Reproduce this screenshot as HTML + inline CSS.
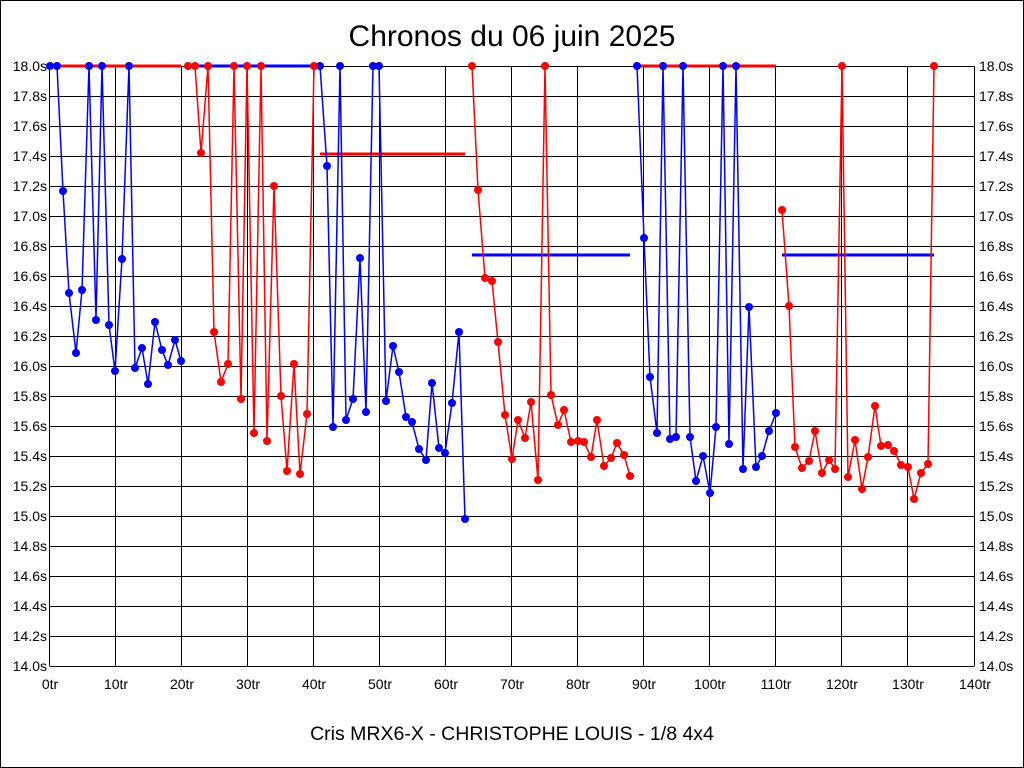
<!DOCTYPE html>
<html><head><meta charset="utf-8"><style>
html,body{margin:0;padding:0;background:#fff;}
svg{display:block;font-family:"Liberation Sans",sans-serif;}
circle{r:4px;}
</style></head><body>
<svg width="1024" height="768" viewBox="0 0 1024 768" xmlns="http://www.w3.org/2000/svg">
<rect x="0.5" y="0.5" width="1023" height="767" fill="#fff" stroke="#000"/>
<text x="512" y="46" font-size="30" text-anchor="middle">Chronos du 06 juin 2025</text>
<text x="512" y="740" font-size="19.5" text-anchor="middle">Cris MRX6-X - CHRISTOPHE LOUIS - 1/8 4x4</text>
<g stroke="#000" stroke-width="1" shape-rendering="crispEdges">
<path d="M49.5 66.5H974.5M49.5 96.5H974.5M49.5 126.5H974.5M49.5 156.5H974.5M49.5 186.5H974.5M49.5 216.5H974.5M49.5 246.5H974.5M49.5 276.5H974.5M49.5 306.5H974.5M49.5 336.5H974.5M49.5 366.5H974.5M49.5 396.5H974.5M49.5 426.5H974.5M49.5 456.5H974.5M49.5 486.5H974.5M49.5 516.5H974.5M49.5 546.5H974.5M49.5 576.5H974.5M49.5 606.5H974.5M49.5 636.5H974.5M49.5 666.5H974.5"/>
<path d="M49.5 66V666M115.5 66V666M181.5 66V666M247.5 66V666M313.5 66V666M379.5 66V666M445.5 66V666M511.5 66V666M577.5 66V666M643.5 66V666M709.5 66V666M775.5 66V666M841.5 66V666M907.5 66V666M974.5 66V666"/>
</g>
<g font-size="14" text-anchor="end">
<text x="47" y="71">18.0s</text><text x="47" y="101">17.8s</text><text x="47" y="131">17.6s</text><text x="47" y="161">17.4s</text><text x="47" y="191">17.2s</text><text x="47" y="221">17.0s</text><text x="47" y="251">16.8s</text><text x="47" y="281">16.6s</text><text x="47" y="311">16.4s</text><text x="47" y="341">16.2s</text><text x="47" y="371">16.0s</text><text x="47" y="401">15.8s</text><text x="47" y="431">15.6s</text><text x="47" y="461">15.4s</text><text x="47" y="491">15.2s</text><text x="47" y="521">15.0s</text><text x="47" y="551">14.8s</text><text x="47" y="581">14.6s</text><text x="47" y="611">14.4s</text><text x="47" y="641">14.2s</text><text x="47" y="671">14.0s</text>
</g>
<g font-size="14" text-anchor="start">
<text x="979" y="71">18.0s</text><text x="979" y="101">17.8s</text><text x="979" y="131">17.6s</text><text x="979" y="161">17.4s</text><text x="979" y="191">17.2s</text><text x="979" y="221">17.0s</text><text x="979" y="251">16.8s</text><text x="979" y="281">16.6s</text><text x="979" y="311">16.4s</text><text x="979" y="341">16.2s</text><text x="979" y="371">16.0s</text><text x="979" y="401">15.8s</text><text x="979" y="431">15.6s</text><text x="979" y="461">15.4s</text><text x="979" y="491">15.2s</text><text x="979" y="521">15.0s</text><text x="979" y="551">14.8s</text><text x="979" y="581">14.6s</text><text x="979" y="611">14.4s</text><text x="979" y="641">14.2s</text><text x="979" y="671">14.0s</text>
</g>
<g font-size="14" text-anchor="middle">
<text x="50" y="689">0tr</text><text x="116" y="689">10tr</text><text x="182" y="689">20tr</text><text x="248" y="689">30tr</text><text x="314" y="689">40tr</text><text x="380" y="689">50tr</text><text x="446" y="689">60tr</text><text x="512" y="689">70tr</text><text x="578" y="689">80tr</text><text x="644" y="689">90tr</text><text x="710" y="689">100tr</text><text x="776" y="689">110tr</text><text x="842" y="689">120tr</text><text x="908" y="689">130tr</text><text x="975" y="689">140tr</text>
</g>
<g stroke-width="3" fill="none">
<path d="M50 66H181" stroke="#f00"/>
<path d="M195 66H313" stroke="#00f"/>
<path d="M320 154H465" stroke="#f00"/>
<path d="M472 255H630" stroke="#00f"/>
<path d="M637 66H776" stroke="#f00"/>
<path d="M782 255H934" stroke="#00f"/>
</g>
<g fill="none" stroke-width="1.5">
<polyline stroke="#00f" points="50,66 57,66 63,191 69,293 76,353 82,290 89,66 96,320 102,66 109,325 115,371 122,259 129,66 135,368 142,348 148,384 155,322 162,350 168,365 175,340 181,361"/>
<polyline stroke="#f00" points="188,66 195,66 201,153 208,66 214,332 221,382 228,364 234,66 241,399 247,66 254,433 261,66 267,441 274,186 281,396 287,471 294,364 300,474 307,414 314,66"/>
<polyline stroke="#00f" points="320,66 327,166 333,427 340,66 346,420 353,399 360,258 366,412 373,66 379,66 386,401 393,346 399,372 406,417 412,422 419,449 426,460 432,383 439,448 445,453 452,403 459,332 465,519"/>
<polyline stroke="#f00" points="472,66 478,190 485,278 492,281 498,342 505,415 512,459 518,420 525,438 531,402 538,480 545,66 551,395 558,425 564,410 571,442 578,441 584,442 591,457 597,420 604,466 611,458 617,443 624,455 630,476"/>
<polyline stroke="#00f" points="637,66 644,238 650,377 657,433 663,66 670,439 676,437 683,66 690,437 696,481 703,456 710,493 716,427 723,66 729,444 736,66 743,469 749,307 756,467 762,456 769,431 776,413"/>
<polyline stroke="#f00" points="782,210 789,306 795,447 802,468 809,461 815,431 822,473 829,460 835,469 842,66 848,477 855,440 862,489 868,457 875,406 881,446 888,445 894,451 901,465 908,467 914,499 921,473 928,464 934,66"/>
</g>
<g fill="#00f">
<circle cx="50" cy="66" r="4"/><circle cx="57" cy="66" r="4"/><circle cx="63" cy="191" r="4"/><circle cx="69" cy="293" r="4"/><circle cx="76" cy="353" r="4"/><circle cx="82" cy="290" r="4"/><circle cx="89" cy="66" r="4"/><circle cx="96" cy="320" r="4"/><circle cx="102" cy="66" r="4"/><circle cx="109" cy="325" r="4"/><circle cx="115" cy="371" r="4"/><circle cx="122" cy="259" r="4"/><circle cx="129" cy="66" r="4"/><circle cx="135" cy="368" r="4"/><circle cx="142" cy="348" r="4"/><circle cx="148" cy="384" r="4"/><circle cx="155" cy="322" r="4"/><circle cx="162" cy="350" r="4"/><circle cx="168" cy="365" r="4"/><circle cx="175" cy="340" r="4"/><circle cx="181" cy="361" r="4"/>
<circle cx="320" cy="66" r="4"/><circle cx="327" cy="166" r="4"/><circle cx="333" cy="427" r="4"/><circle cx="340" cy="66" r="4"/><circle cx="346" cy="420" r="4"/><circle cx="353" cy="399" r="4"/><circle cx="360" cy="258" r="4"/><circle cx="366" cy="412" r="4"/><circle cx="373" cy="66" r="4"/><circle cx="379" cy="66" r="4"/><circle cx="386" cy="401" r="4"/><circle cx="393" cy="346" r="4"/><circle cx="399" cy="372" r="4"/><circle cx="406" cy="417" r="4"/><circle cx="412" cy="422" r="4"/><circle cx="419" cy="449" r="4"/><circle cx="426" cy="460" r="4"/><circle cx="432" cy="383" r="4"/><circle cx="439" cy="448" r="4"/><circle cx="445" cy="453" r="4"/><circle cx="452" cy="403" r="4"/><circle cx="459" cy="332" r="4"/><circle cx="465" cy="519" r="4"/>
<circle cx="637" cy="66" r="4"/><circle cx="644" cy="238" r="4"/><circle cx="650" cy="377" r="4"/><circle cx="657" cy="433" r="4"/><circle cx="663" cy="66" r="4"/><circle cx="670" cy="439" r="4"/><circle cx="676" cy="437" r="4"/><circle cx="683" cy="66" r="4"/><circle cx="690" cy="437" r="4"/><circle cx="696" cy="481" r="4"/><circle cx="703" cy="456" r="4"/><circle cx="710" cy="493" r="4"/><circle cx="716" cy="427" r="4"/><circle cx="723" cy="66" r="4"/><circle cx="729" cy="444" r="4"/><circle cx="736" cy="66" r="4"/><circle cx="743" cy="469" r="4"/><circle cx="749" cy="307" r="4"/><circle cx="756" cy="467" r="4"/><circle cx="762" cy="456" r="4"/><circle cx="769" cy="431" r="4"/><circle cx="776" cy="413" r="4"/>
</g>
<g fill="#f00">
<circle cx="188" cy="66" r="4"/><circle cx="195" cy="66" r="4"/><circle cx="201" cy="153" r="4"/><circle cx="208" cy="66" r="4"/><circle cx="214" cy="332" r="4"/><circle cx="221" cy="382" r="4"/><circle cx="228" cy="364" r="4"/><circle cx="234" cy="66" r="4"/><circle cx="241" cy="399" r="4"/><circle cx="247" cy="66" r="4"/><circle cx="254" cy="433" r="4"/><circle cx="261" cy="66" r="4"/><circle cx="267" cy="441" r="4"/><circle cx="274" cy="186" r="4"/><circle cx="281" cy="396" r="4"/><circle cx="287" cy="471" r="4"/><circle cx="294" cy="364" r="4"/><circle cx="300" cy="474" r="4"/><circle cx="307" cy="414" r="4"/><circle cx="314" cy="66" r="4"/>
<circle cx="472" cy="66" r="4"/><circle cx="478" cy="190" r="4"/><circle cx="485" cy="278" r="4"/><circle cx="492" cy="281" r="4"/><circle cx="498" cy="342" r="4"/><circle cx="505" cy="415" r="4"/><circle cx="512" cy="459" r="4"/><circle cx="518" cy="420" r="4"/><circle cx="525" cy="438" r="4"/><circle cx="531" cy="402" r="4"/><circle cx="538" cy="480" r="4"/><circle cx="545" cy="66" r="4"/><circle cx="551" cy="395" r="4"/><circle cx="558" cy="425" r="4"/><circle cx="564" cy="410" r="4"/><circle cx="571" cy="442" r="4"/><circle cx="578" cy="441" r="4"/><circle cx="584" cy="442" r="4"/><circle cx="591" cy="457" r="4"/><circle cx="597" cy="420" r="4"/><circle cx="604" cy="466" r="4"/><circle cx="611" cy="458" r="4"/><circle cx="617" cy="443" r="4"/><circle cx="624" cy="455" r="4"/><circle cx="630" cy="476" r="4"/>
<circle cx="782" cy="210" r="4"/><circle cx="789" cy="306" r="4"/><circle cx="795" cy="447" r="4"/><circle cx="802" cy="468" r="4"/><circle cx="809" cy="461" r="4"/><circle cx="815" cy="431" r="4"/><circle cx="822" cy="473" r="4"/><circle cx="829" cy="460" r="4"/><circle cx="835" cy="469" r="4"/><circle cx="842" cy="66" r="4"/><circle cx="848" cy="477" r="4"/><circle cx="855" cy="440" r="4"/><circle cx="862" cy="489" r="4"/><circle cx="868" cy="457" r="4"/><circle cx="875" cy="406" r="4"/><circle cx="881" cy="446" r="4"/><circle cx="888" cy="445" r="4"/><circle cx="894" cy="451" r="4"/><circle cx="901" cy="465" r="4"/><circle cx="908" cy="467" r="4"/><circle cx="914" cy="499" r="4"/><circle cx="921" cy="473" r="4"/><circle cx="928" cy="464" r="4"/><circle cx="934" cy="66" r="4"/>
</g>
</svg>
</body></html>
